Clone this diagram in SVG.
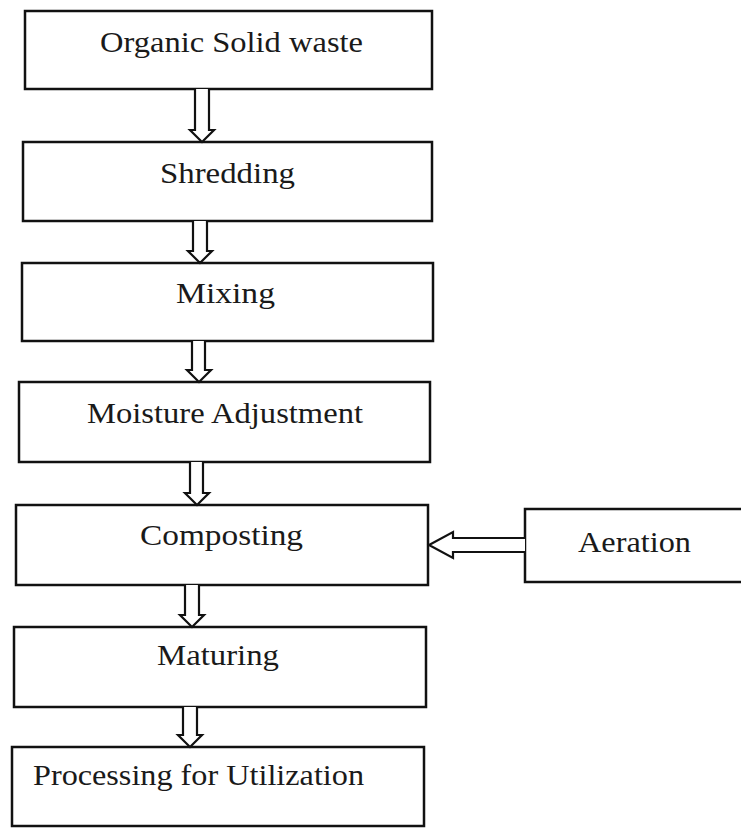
<svg xmlns="http://www.w3.org/2000/svg" width="741" height="828" viewBox="0 0 741 828">
<style>
.box{fill:#fff;stroke:#111;stroke-width:2.5}
.lbl{font-family:"Liberation Serif","Times New Roman",serif;font-size:30px;fill:#1a1a1a}
.arr{fill:#fff;stroke:#111;stroke-width:2.2;stroke-linejoin:miter}
</style>
<rect width="741" height="828" fill="#fff"/>
<g id="n1"><rect class="box" x="25" y="11" width="407" height="78"/><text class="lbl" x="100" y="52" textLength="263" lengthAdjust="spacingAndGlyphs">Organic Solid waste</text></g>
<g id="n2"><rect class="box" x="23" y="142" width="409" height="79"/><text class="lbl" x="160" y="183" textLength="135" lengthAdjust="spacingAndGlyphs">Shredding</text></g>
<g id="n3"><rect class="box" x="22" y="263" width="411" height="78"/><text class="lbl" x="176" y="303" textLength="99" lengthAdjust="spacingAndGlyphs">Mixing</text></g>
<g id="n4"><rect class="box" x="19" y="382" width="411" height="80"/><text class="lbl" x="87" y="423" textLength="276" lengthAdjust="spacingAndGlyphs">Moisture Adjustment</text></g>
<g id="n5"><rect class="box" x="16" y="505" width="412" height="80"/><text class="lbl" x="140" y="545" textLength="163" lengthAdjust="spacingAndGlyphs">Composting</text></g>
<g id="n6"><rect class="box" x="14" y="627" width="412" height="80"/><text class="lbl" x="157" y="665" textLength="122" lengthAdjust="spacingAndGlyphs">Maturing</text></g>
<g id="n7"><rect class="box" x="12" y="747" width="412" height="79"/><text class="lbl" x="33" y="785" textLength="331" lengthAdjust="spacingAndGlyphs">Processing for Utilization</text></g>
<g id="n8"><rect class="box" x="525" y="509" width="218" height="73"/><text class="lbl" x="578" y="552" textLength="113" lengthAdjust="spacingAndGlyphs">Aeration</text></g>
<g id="connectors">
<path class="arr" d="M195,89 V130 H190 L202,142 L214,130 H209 V89"/>
<path class="arr" d="M193,221 V251 H188 L200,263 L212,251 H207 V221"/>
<path class="arr" d="M192,341 V370 H187 L199,382 L211,370 H205 V341"/>
<path class="arr" d="M190,462 V493 H185 L197,505 L209,493 H203 V462"/>
<path class="arr" d="M185,585 V615 H180 L192,627 L204,615 H199 V585"/>
<path class="arr" d="M183,707 V735 H178 L190,747 L202,735 H197 V707"/>
<path class="arr" d="M525,538 H453 V532 L429,545 L453,558 V552 H525"/>
</g>
</svg>
